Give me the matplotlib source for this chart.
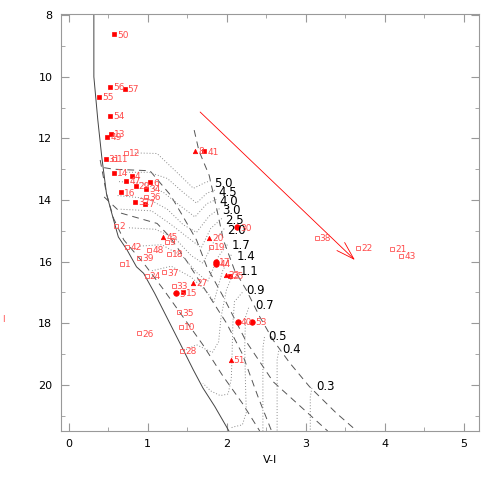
import matplotlib
matplotlib.use("Agg")
import matplotlib.pyplot as plt

# ---- stars: label, marker kind, V-I, V ----
star_ids = ["50", "56", "57", "55", "54", "13", "49", "8", "41", "12",
            "31", "11", "14", "4", "47", "6", "29", "34", "16", "36",
            "32", "7", "2", "45", "9", "42", "48", "18", "39", "1",
            "20", "19", "30", "17", "44", "23", "25", "24", "37", "27",
            "33", "5", "15", "35", "10", "26", "28", "40", "53", "51",
            "38", "22", "21", "43"]
star_kind = ["fs", "fs", "fs", "fs", "fs", "fs", "fs", "tri", "fs", "os",
             "fs", "os", "fs", "fs", "fs", "fs", "fs", "fs", "fs", "os",
             "fs", "fs", "os", "tri", "os", "os", "os", "os", "os", "os",
             "tri", "os", "fc", "fc", "fc", "tri", "fs", "os", "os", "tri",
             "os", "fc", "fs", "os", "os", "os", "os", "fc", "fc", "tri",
             "os", "os", "os", "os"]
star_vi = [0.58, 0.53, 0.71, 0.39, 0.53, 0.535, 0.49, 1.60, 1.72, 0.725,
           0.47, 0.57, 0.57, 0.80, 0.73, 1.03, 0.85, 0.98, 0.665, 0.98,
           0.84, 0.97, 0.60, 1.20, 1.24, 0.745, 1.02, 1.27, 0.89, 0.67,
           1.78, 1.80, 2.13, 1.86, 1.87, 1.99, 2.04, 0.99, 1.21, 1.58,
           1.33, 1.36, 1.45, 1.40, 1.42, 0.89, 1.44, 2.14, 2.32, 2.05,
           3.14, 3.67, 4.10, 4.21]
star_v = [8.62, 10.34, 10.39, 10.65, 11.28, 11.85, 11.96, 12.41, 12.42, 12.46,
          12.67, 12.67, 13.13, 13.21, 13.37, 13.43, 13.55, 13.65, 13.75, 13.91,
          14.06, 14.13, 14.83, 15.19, 15.35, 15.52, 15.62, 15.75, 15.89, 16.08,
          15.23, 15.52, 14.89, 16.00, 16.08, 16.44, 16.46, 16.46, 16.35, 16.69,
          16.79, 17.03, 17.00, 17.65, 18.13, 18.33, 18.89, 17.95, 17.95, 19.20,
          15.24, 15.55, 15.60, 15.82]

# ---- ZAMS (solid) ----
zams_vi = [0.32, 0.32, 0.37, 0.42, 0.48, 0.57, 0.63, 0.74, 0.86, 0.95, 1.09,
           1.24, 1.41, 1.58, 1.70, 1.85, 2.03]
zams_v = [7.9, 10.0, 11.4, 12.6, 13.8, 14.65, 15.2, 15.62, 16.17, 16.38, 17.03,
          17.79, 18.65, 19.52, 20.1, 20.7, 21.5]

# ---- isochrones (dashed) ----
iso_a_vi = [1.59, 1.65, 1.78, 1.87, 1.96, 2.10, 2.25, 2.42, 2.59, 2.80, 3.05, 3.39, 3.65]
iso_a_v = [11.73, 12.4, 13.2, 14.22, 15.30, 16.27, 16.92, 17.79, 18.55, 19.29, 20.06, 20.92, 21.5]
iso_b_vi = [0.45, 0.57, 1.03, 1.29, 1.45, 1.62, 1.75, 1.95, 2.25, 2.59, 3.28]
iso_b_v = [12.95, 13.0, 13.05, 13.84, 14.54, 15.3, 16.17, 17.1, 18.6, 19.9, 21.5]
iso_c_vi = [0.45, 0.67, 1.12, 1.28, 1.50, 1.75, 2.00, 2.20, 2.40, 2.57]
iso_c_v = [13.9, 14.43, 14.76, 15.19, 16.0, 17.0, 18.0, 19.0, 20.4, 21.5]
iso_d_vi = [0.40, 0.48, 0.57, 0.70, 0.95, 1.20, 1.45, 1.70, 1.95, 2.20, 2.42]
iso_d_v = [12.7, 13.8, 14.6, 15.3, 16.05, 16.9, 17.8, 18.7, 19.7, 20.6, 21.5]

# ---- tracks (dotted), one per mass ----
masses = ["5.0", "4.5", "4.0", "3.0", "2.5", "2.0", "1.7", "1.4", "1.1", "0.9", "0.7", "0.5", "0.4", "0.3"]
mass_lab_vi = [1.844, 1.894, 1.907, 1.945, 1.978, 2.012, 2.063, 2.134, 2.168, 2.253, 2.366, 2.534, 2.702, 3.136]
mass_lab_v = [13.46, 13.75, 14.04, 14.33, 14.65, 14.98, 15.49, 15.82, 16.33, 16.95, 17.44, 18.42, 18.85, 20.06]
track_vi = [
    [1.80, 1.74, 1.58, 1.35, 1.12, 0.84],
    [1.85, 1.75, 1.62, 1.45, 1.25, 1.02, 0.72],
    [1.87, 1.75, 1.60, 1.42, 1.20, 0.95, 0.62],
    [1.91, 1.78, 1.62, 1.45, 1.25, 1.00, 0.60],
    [1.94, 1.80, 1.68, 1.50, 1.30, 1.05, 0.66],
    [1.97, 1.85, 1.70, 1.55, 1.35, 1.10, 0.75],
    [2.01, 1.90, 1.76, 1.62, 1.45, 1.18, 0.88],
    [2.06, 1.95, 1.84, 1.74, 1.55, 1.30, 1.05],
    [2.10, 2.00, 1.93, 1.90, 1.82, 1.62, 1.45],
    [2.20, 2.10, 2.08, 2.07, 2.06, 2.02, 1.92, 1.80, 1.70],
    [2.28, 2.24, 2.23, 2.24, 2.25, 2.20, 2.10, 2.05],
    [2.48, 2.46, 2.46, 2.46],
    [2.66, 2.64, 2.64, 2.64],
    [3.08, 3.06, 3.06],
]
track_v = [
    [13.38, 13.42, 13.62, 13.05, 12.49, 12.47],
    [13.68, 13.78, 14.10, 13.75, 13.30, 13.10, 13.10],
    [13.98, 14.12, 14.55, 14.20, 13.75, 13.45, 13.40],
    [14.28, 14.52, 15.05, 14.80, 14.30, 13.95, 13.85],
    [14.60, 14.92, 15.55, 15.20, 14.80, 14.35, 14.30],
    [14.93, 15.30, 16.05, 15.80, 15.25, 14.95, 14.90],
    [15.45, 15.82, 16.65, 16.35, 15.85, 15.45, 15.50],
    [15.78, 16.30, 17.30, 16.95, 16.50, 16.15, 16.30],
    [16.30, 16.90, 17.80, 18.60, 18.95, 18.70, 18.90],
    [17.00, 17.30, 18.00, 19.00, 19.80, 20.30, 20.35, 20.20, 19.95],
    [17.50, 17.80, 18.80, 20.00, 20.90, 21.30, 21.36, 21.40],
    [18.45, 18.80, 20.50, 21.50],
    [18.90, 19.20, 20.50, 21.50],
    [20.10, 20.40, 21.50],
]

# ---- reddening arrow ----
arrow_start = (1.64, 11.08)
arrow_end = (3.65, 16.01)

if __name__ == "__main__":
    fig = plt.figure(figsize=(4.91, 4.91), dpi=100)
    ax = fig.add_axes([0.1236, 0.1222, 0.8526, 0.8493])

    ax.plot(zams_vi, zams_v, color="#444444", lw=0.7)
    for xs, ys in [(iso_a_vi, iso_a_v), (iso_b_vi, iso_b_v), (iso_c_vi, iso_c_v), (iso_d_vi, iso_d_v)]:
        ax.plot(xs, ys, color="#555555", lw=0.7, dashes=(7, 5))
    for xs, ys in zip(track_vi, track_v):
        ax.plot(xs, ys, color="#8a8a8a", lw=0.7, dashes=(1, 2))
    for m, x, y in zip(masses, mass_lab_vi, mass_lab_v):
        ax.text(x, y, m, fontsize=8.5, color="black", ha="left", va="center")

    ax.annotate("", xy=arrow_end, xytext=arrow_start,
                arrowprops=dict(arrowstyle="->,head_length=1.3,head_width=0.4",
                                color="red", lw=0.6))

    styles = {"fs": dict(marker="s", ms=3.0, mfc="red", mec="red", mew=0.5),
              "os": dict(marker="s", ms=3.0, mfc="none", mec="#ff5555", mew=0.6),
              "tri": dict(marker="^", ms=3.2, mfc="red", mec="red", mew=0.5),
              "fc": dict(marker="o", ms=4.0, mfc="red", mec="red", mew=0.5)}
    for lab, kind, x, y in zip(star_ids, star_kind, star_vi, star_v):
        ax.plot([x], [y], ls="none", **styles[kind])
        ax.annotate(lab, (x, y), xytext=(2.2, -0.5), textcoords="offset points",
                    fontsize=6.5, color="#ff4a4a", ha="left", va="center")

    ax.set_xlim(-0.1, 5.2)
    ax.set_ylim(21.5, 7.96)
    ax.set_xticks([0, 1, 2, 3, 4, 5])
    ax.set_xticks([0.5, 1.5, 2.5, 3.5, 4.5], minor=True)
    ax.set_yticks([8, 10, 12, 14, 16, 18, 20])
    ax.set_yticks([9, 11, 13, 15, 17, 19, 21], minor=True)
    ax.tick_params(which="both", direction="in", top=True, right=True,
                   color="#999999", labelsize=8, pad=6)
    ax.tick_params(which="major", length=6)
    ax.tick_params(which="minor", length=3)
    for sp in ax.spines.values():
        sp.set_color("#999999")
    ax.set_xlabel("V-I", fontsize=8)
    fig.text(0.004, 0.35, "I", color="#ff4444", fontsize=6, va="center")

    fig.savefig("out.png", dpi=100)
